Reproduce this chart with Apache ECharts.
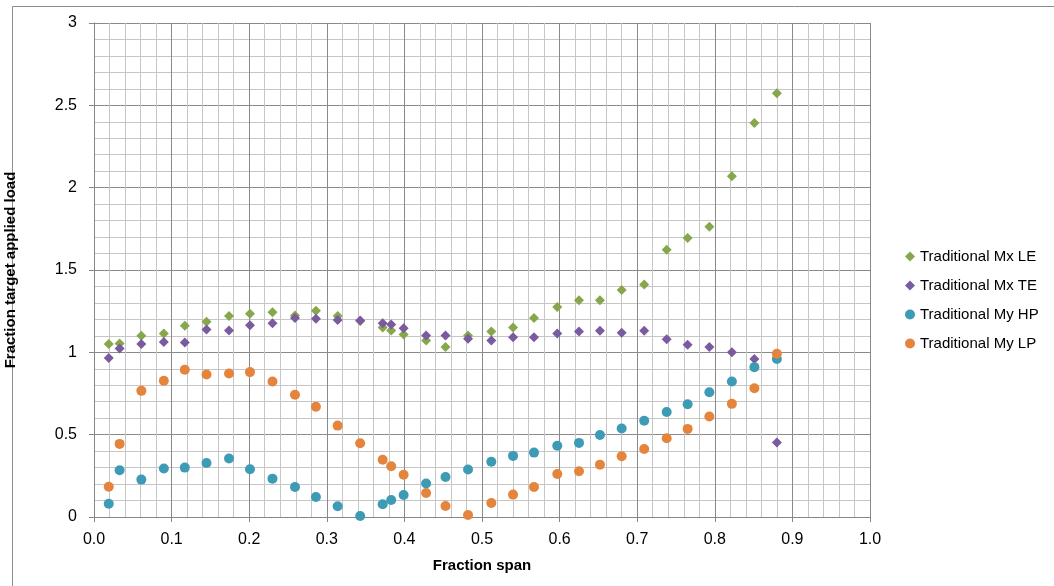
<!DOCTYPE html>
<html>
<head>
<meta charset="utf-8">
<script src="https://cdn.jsdelivr.net/npm/echarts@6/dist/echarts.min.js"></script>
<style>html,body{margin:0;padding:0;background:#fff;}#c{width:1054px;height:586px;}</style>
</head>
<body>
<div id="c"></div>
<script>
var span = [0.019,0.033,0.061,0.090,0.117,0.145,0.174,0.201,0.230,0.259,0.286,0.314,0.343,0.372,0.383,0.399,0.428,0.453,0.482,0.512,0.540,0.567,0.597,0.625,0.652,0.680,0.709,0.738,0.765,0.793,0.822,0.851,0.880];
var mxLE = [1.050,1.054,1.100,1.114,1.161,1.185,1.220,1.234,1.244,1.224,1.252,1.220,1.190,1.151,1.133,1.108,1.072,1.032,1.102,1.127,1.151,1.208,1.275,1.317,1.317,1.378,1.412,1.623,1.694,1.763,2.069,2.393,2.573];
var mxTE = [0.965,1.023,1.050,1.062,1.060,1.139,1.133,1.165,1.177,1.208,1.204,1.196,1.193,1.177,1.169,1.147,1.102,1.102,1.082,1.072,1.092,1.092,1.114,1.127,1.131,1.119,1.131,1.080,1.046,1.032,1.001,0.959,0.452];
var myHP = [0.081,0.284,0.227,0.294,0.300,0.328,0.355,0.290,0.233,0.182,0.122,0.065,0.006,0.077,0.103,0.134,0.203,0.243,0.288,0.336,0.371,0.391,0.433,0.450,0.498,0.537,0.584,0.638,0.685,0.758,0.823,0.910,0.959];
var myLP = [0.184,0.444,0.766,0.827,0.894,0.865,0.871,0.880,0.823,0.742,0.669,0.555,0.448,0.348,0.308,0.257,0.146,0.067,0.012,0.085,0.136,0.182,0.261,0.278,0.318,0.369,0.413,0.478,0.535,0.610,0.687,0.782,0.991];
var seriesNames = ['Traditional Mx LE','Traditional Mx TE','Traditional My HP','Traditional My LP'];
var xTicks = ['0.0','0.1','0.2','0.3','0.4','0.5','0.6','0.7','0.8','0.9','1.0'];

function pairs(ys){ return span.map(function(x,i){ return [x, ys[i]]; }); }
var colors = ['#86a74b','#7a5b9f','#3e9bb6','#e5853d'];
var FONT = 'Liberation Sans';

var chart = echarts.init(document.getElementById('c'));
chart.setOption({
  animation:false,
  backgroundColor:'#fff',
  graphic:[{type:'rect', shape:{x:12.5,y:6.5,width:1100,height:700}, style:{fill:'none',stroke:'#8c8c8c',lineWidth:1}, silent:true}],
  legend:{
    orient:'vertical', left:900, top:244, itemGap:14, itemWidth:10, itemHeight:10,
    textStyle:{fontFamily:FONT, fontSize:15, lineHeight:15, color:'#000'},
    data:[
      {name:seriesNames[0], icon:'diamond', itemStyle:{color:colors[0], opacity:1}},
      {name:seriesNames[1], icon:'diamond', itemStyle:{color:colors[1], opacity:1}},
      {name:seriesNames[2], icon:'circle', itemStyle:{color:colors[2], opacity:1}},
      {name:seriesNames[3], icon:'circle', itemStyle:{color:colors[3], opacity:1}}
    ]
  },
  grid:{left:94, right:184, top:23, bottom:69, containLabel:false, outerBoundsMode:'none'},
  xAxis:{
    type:'value', min:0, max:1, interval:0.1,
    name:'Fraction span', nameLocation:'middle', nameGap:41,
    nameTextStyle:{fontFamily:FONT, fontSize:15, fontWeight:'bold', color:'#000'},
    axisLine:{show:true, onZero:false, lineStyle:{color:'#868686'}},
    axisTick:{show:true, length:5, lineStyle:{color:'#868686'}},
    axisLabel:{margin:15, fontFamily:FONT, fontSize:16, color:'#000', formatter:function(v){ return xTicks[Math.round(v*10)]; }},
    splitLine:{show:true, lineStyle:{color:'#8a8a8a', width:1}},
    minorTick:{show:false, splitNumber:5},
    minorSplitLine:{show:true, lineStyle:{color:'#c6c6c6', width:1}}
  },
  yAxis:{
    type:'value', min:0, max:3, interval:0.5,
    name:'Fraction target applied load', nameLocation:'middle', nameGap:76,
    nameTextStyle:{fontFamily:FONT, fontSize:15, fontWeight:'bold', color:'#000'},
    axisLine:{show:true, lineStyle:{color:'#868686'}},
    axisTick:{show:true, length:5, lineStyle:{color:'#868686'}},
    axisLabel:{margin:17, fontFamily:FONT, fontSize:16, color:'#000'},
    splitLine:{show:true, lineStyle:{color:'#8a8a8a', width:1}},
    minorTick:{show:false, splitNumber:5},
    minorSplitLine:{show:true, lineStyle:{color:'#c6c6c6', width:1}}
  },
  series:[
    {name:seriesNames[0], type:'scatter', symbol:'diamond', symbolSize:10, clip:false, itemStyle:{color:colors[0], opacity:1}, data:pairs(mxLE)},
    {name:seriesNames[1], type:'scatter', symbol:'diamond', symbolSize:10, clip:false, itemStyle:{color:colors[1], opacity:1}, data:pairs(mxTE)},
    {name:seriesNames[2], type:'scatter', symbol:'circle', symbolSize:10, clip:false, itemStyle:{color:colors[2], opacity:1}, data:pairs(myHP)},
    {name:seriesNames[3], type:'scatter', symbol:'circle', symbolSize:10, clip:false, itemStyle:{color:colors[3], opacity:1}, data:pairs(myLP)}
  ]
});
</script>
</body>
</html>
